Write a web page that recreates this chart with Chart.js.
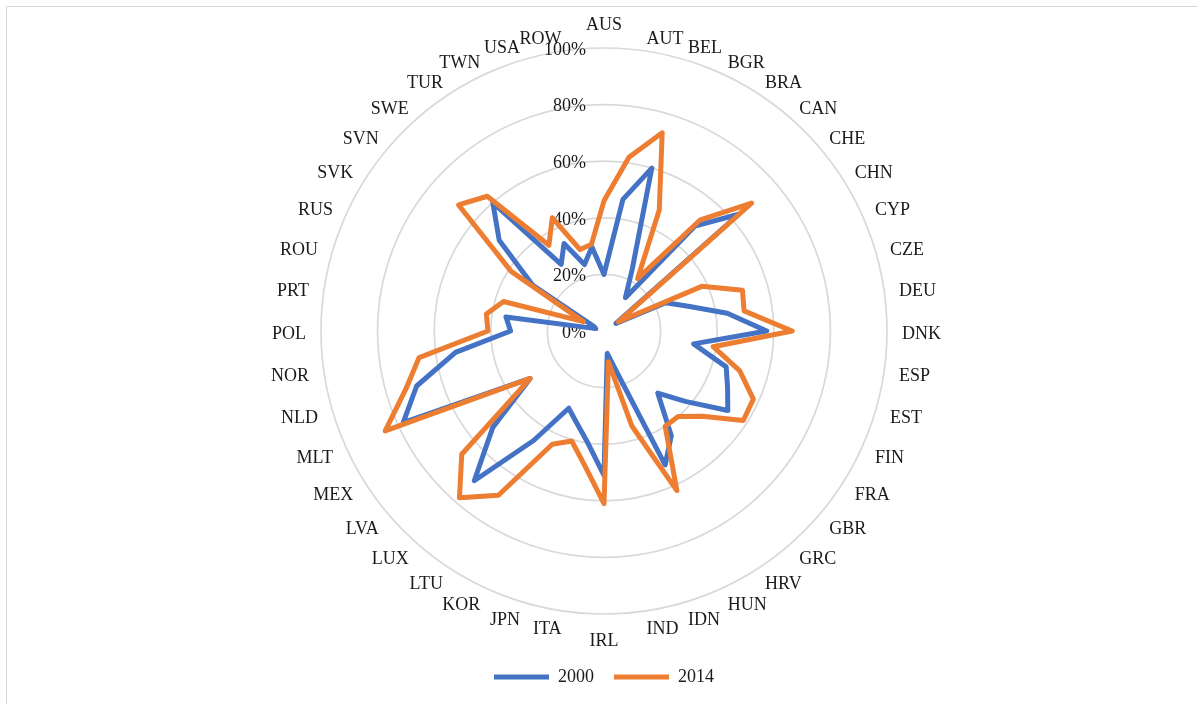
<!DOCTYPE html>
<html><head><meta charset="utf-8">
<script src="https://cdn.jsdelivr.net/npm/chart.js@4.4.0/dist/chart.umd.min.js"></script>
<style>
html,body{margin:0;padding:0;background:#fff;overflow:hidden;}
#wrap{position:relative;width:1197px;height:704px;overflow:hidden;}
#frame{position:absolute;left:6px;top:6px;width:1300px;height:800px;border:1.5px solid #d9d9d9;box-sizing:border-box;}
canvas{position:absolute;left:0;top:0;}
</style></head><body>
<div id="wrap"><div id="frame"></div><canvas id="c" width="1197" height="704"></canvas></div>
<script>
const categories = ['AUS','AUT','BEL','BGR','BRA','CAN','CHE','CHN','CYP','CZE','DEU','DNK','ESP','EST','FIN','FRA','GBR','GRC','HRV','HUN','IDN','IND','IRL','ITA','JPN','KOR','LTU','LUX','LVA','MEX','MLT','NLD','NOR','POL','PRT','ROU','RUS','SVK','SVN','SWE','TUR','TWN','USA','ROW'];
const values2000 = [0.20,0.47,0.60,0.24,0.14,0.49,0.63,0.05,0.24,0.31,0.44,0.575,0.32,0.45,0.48,0.52,0.38,0.29,0.44,0.52,0.14,0.08,0.51,0.40,0.34,0.30,0.46,0.70,0.52,0.31,0.78,0.69,0.53,0.33,0.35,0.03,0.04,0.30,0.49,0.60,0.28,0.34,0.245,0.30];
const values2014 = [0.46,0.62,0.73,0.47,0.22,0.52,0.69,0.06,0.38,0.51,0.50,0.665,0.39,0.50,0.58,0.585,0.46,0.40,0.40,0.62,0.35,0.11,0.61,0.48,0.405,0.44,0.69,0.78,0.665,0.31,0.85,0.73,0.66,0.41,0.42,0.37,0.08,0.39,0.68,0.63,0.36,0.44,0.30,0.31];
const seriesNames = ['2000','2014'];
const tickValues = [0,0.2,0.4,0.6,0.8,1];
const tickLabels = ['0%','20%','40%','60%','80%','100%'];

const FONT = '"Liberation Serif", "Times New Roman", serif';
const TEXT = '#1a1a1a';

const excelLabels = {
  id: 'excelLabels',
  beforeDatasetsDraw(chart) {
    const s = chart.scales.r;
    const ctx = chart.ctx;
    ctx.save();
    ctx.font = '18px ' + FONT;
    ctx.fillStyle = TEXT;
    ctx.textBaseline = 'middle';
    ctx.textAlign = 'right';
    tickValues.forEach((v, i) => {
      const d = s.getDistanceFromCenterForValue(v);
      ctx.fillText(tickLabels[i], s.xCenter - 18, s.yCenter - d + 2);
    });
    categories.forEach((c, i) => {
      const p = s.getPointPosition(i, s.drawingArea + 15);
      const deg = Math.round((s.getIndexAngle(i) * 180 / Math.PI) % 360);
      let align = 'center', dy = 3;
      if (deg === 0) { dy = -8; }
      else if (deg === 180) { dy = 12; }
      else if (deg < 180) { align = 'left'; }
      else { align = 'right'; }
      ctx.textAlign = align;
      ctx.fillText(c, p.x, p.y + dy);
    });
    ctx.restore();
  }
};

new Chart(document.getElementById('c'), {
  type: 'radar',
  data: {
    labels: categories,
    datasets: [
      { label: seriesNames[0], data: values2000, borderColor: '#4472C4', backgroundColor: '#4472C4',
        borderWidth: 5, fill: false, pointRadius: 0, pointHoverRadius: 0,
        borderJoinStyle: 'round', borderCapStyle: 'round', order: 1 },
      { label: seriesNames[1], data: values2014, borderColor: '#ED7D31', backgroundColor: '#ED7D31',
        borderWidth: 5, fill: false, pointRadius: 0, pointHoverRadius: 0,
        borderJoinStyle: 'round', borderCapStyle: 'round', order: 0 }
    ]
  },
  options: {
    responsive: false,
    animation: false,
    devicePixelRatio: 1,
    layout: { padding: { left: 321, right: 310, top: 14, bottom: 8 } },
    elements: { line: { tension: 0 } },
    scales: {
      r: {
        min: 0, max: 1,
        ticks: { display: false, stepSize: 0.2 },
        grid: { circular: true, color: '#d9d9d9', lineWidth: 1.7 },
        angleLines: { display: false },
        pointLabels: { display: false }
      }
    },
    plugins: {
      tooltip: { enabled: false },
      legend: {
        position: 'bottom',
        labels: {
          usePointStyle: true, pointStyle: 'line', pointStyleWidth: 55,
          padding: 20, color: TEXT,
          font: { family: FONT, size: 18 },
          sort: (a, b) => a.datasetIndex - b.datasetIndex
        }
      }
    }
  },
  plugins: [excelLabels]
});
</script>
</body></html>
